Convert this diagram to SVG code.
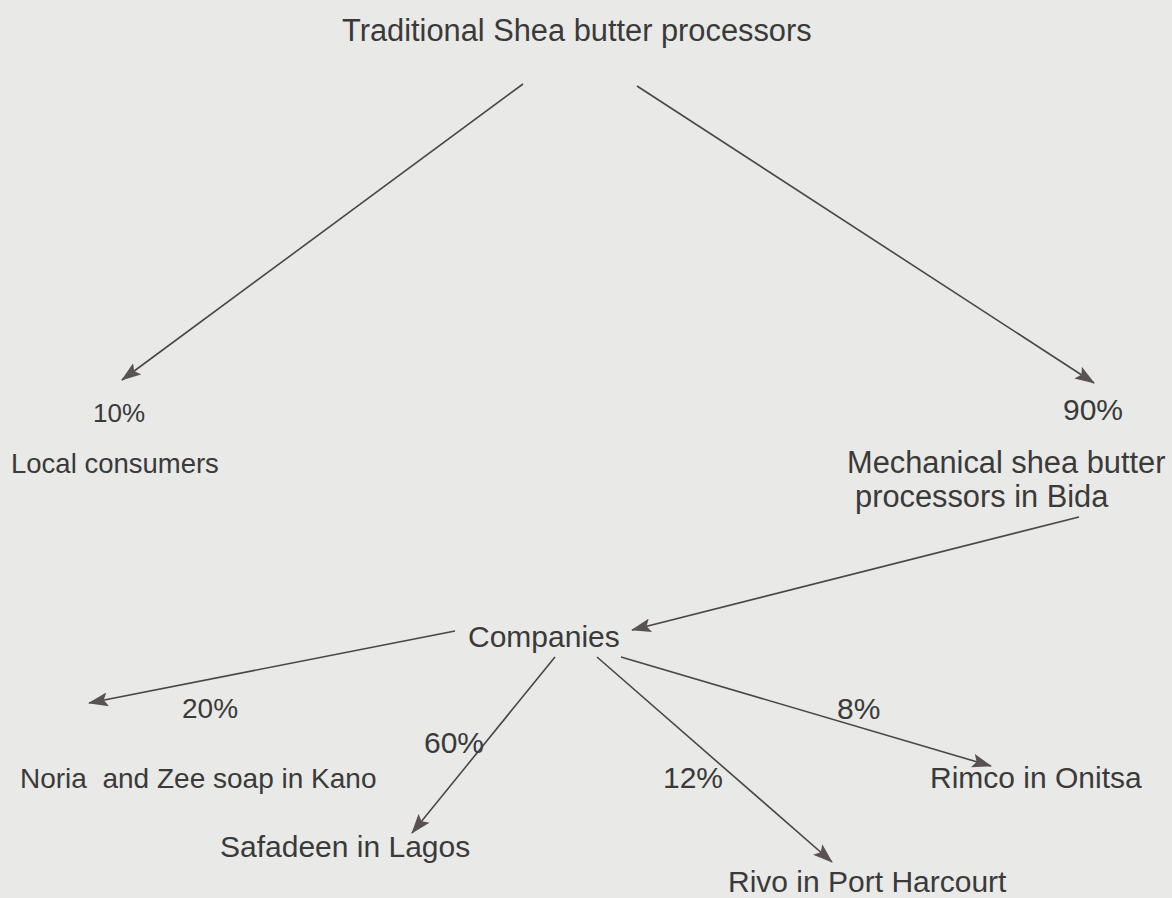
<svg xmlns="http://www.w3.org/2000/svg" width="1172" height="898" viewBox="0 0 1172 898">
<style>
text{font-family:"Liberation Sans",Arial,sans-serif;fill:#3a3a3a}
.s26{font-size:26px}.s27{font-size:27.5px}.s28{font-size:28px}.s30{font-size:30px}.s31{font-size:30.8px}
.c{fill:none;stroke:#4a4646;stroke-width:1.6}
</style>
<defs>
<marker id="ah" viewBox="0 0 20 14" refX="19" refY="7" markerWidth="20" markerHeight="14" markerUnits="userSpaceOnUse" orient="auto">
<path d="M0,0 L20,7 L0,14 L4,7 z" fill="#5a5252"/>
</marker>
</defs>
<rect width="1172" height="898" fill="#e9e9e7"/>
<g id="connectors">
<line class="c" x1="523" y1="84" x2="122" y2="380" marker-end="url(#ah)"/>
<line class="c" x1="637" y1="86" x2="1094" y2="383" marker-end="url(#ah)"/>
<line class="c" x1="1079" y1="517" x2="632" y2="630" marker-end="url(#ah)"/>
<line class="c" x1="455" y1="631" x2="89" y2="703" marker-end="url(#ah)"/>
<line class="c" x1="555" y1="657" x2="412" y2="833" marker-end="url(#ah)"/>
<line class="c" x1="597" y1="657" x2="832" y2="862" marker-end="url(#ah)"/>
<line class="c" x1="621" y1="657" x2="991" y2="766" marker-end="url(#ah)"/>
</g>
<g id="node-traditional"><text class="s31" x="342" y="41">Traditional Shea butter processors</text></g>
<g id="label-10"><text class="s26" x="93" y="422">10%</text></g>
<g id="node-local"><text class="s27" x="11" y="473">Local consumers</text></g>
<g id="label-90"><text class="s30" x="1063" y="420">90%</text></g>
<g id="node-mechanical"><text class="s31" x="847" y="473">Mechanical shea butter</text><text class="s31" x="855" y="507">processors in Bida</text></g>
<g id="node-companies"><text class="s30" x="468" y="647">Companies</text></g>
<g id="label-20"><text class="s28" x="182" y="718">20%</text></g>
<g id="label-60"><text class="s30" x="424" y="753">60%</text></g>
<g id="label-12"><text class="s30" x="663" y="788">12%</text></g>
<g id="label-8"><text class="s30" x="837" y="719">8%</text></g>
<g id="node-noria"><text class="s28" x="20" y="788" xml:space="preserve">Noria  and Zee soap in Kano</text></g>
<g id="node-safadeen"><text class="s30" x="220" y="857">Safadeen in Lagos</text></g>
<g id="node-rivo"><text class="s30" x="728" y="892">Rivo in Port Harcourt</text></g>
<g id="node-rimco"><text class="s30" x="930" y="788">Rimco in Onitsa</text></g>
</svg>
